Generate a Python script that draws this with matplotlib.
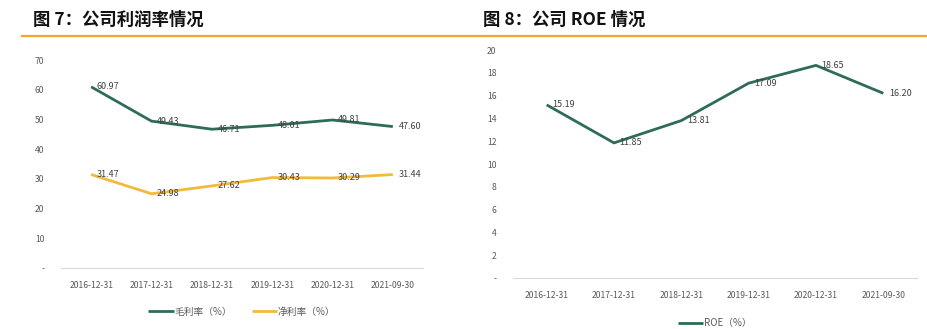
import matplotlib.pyplot as plt
from matplotlib.lines import Line2D

plt.rcParams['font.family'] = ['Noto Sans CJK SC', 'DejaVu Sans']

# 数据
dates = ['2016-12-31', '2017-12-31', '2018-12-31', '2019-12-31', '2020-12-31', '2021-09-30']
gross_margin = [60.97, 49.43, 46.71, 48.01, 49.81, 47.60]
net_margin = [31.47, 24.98, 27.62, 30.43, 30.29, 31.44]
roe = [15.19, 11.85, 13.81, 17.09, 18.65, 16.20]

left_ticks = [0, 10, 20, 30, 40, 50, 60, 70]
right_ticks = [0, 2, 4, 6, 8, 10, 12, 14, 16, 18, 20]

green = '#2E6B5B'
yellow = '#F2BA3A'
tick_color = '#595959'
label_color = '#404040'

fig = plt.figure(figsize=(9.28, 3.29), dpi=100)

# 标题与下划线
fig.text(33 / 928, 1 - 20 / 329, '图 7：公司利润率情况', fontsize=12.5, fontweight='bold',
         va='center', ha='left', color='#111111')
fig.text(483 / 928, 1 - 20 / 329, '图 8：公司 ROE 情况', fontsize=12.5, fontweight='bold',
         va='center', ha='left', color='#111111')
fig.add_artist(Line2D([22 / 928, 1.0], [1 - 36 / 329, 1 - 36 / 329], color='#F0A92E', lw=1.6))


def style_axis(ax, ticks, ymax):
    ax.set_ylim(0, ymax)
    ax.set_xlim(-0.5, len(dates) - 0.5)
    ax.set_xticks(range(len(dates)))
    ax.set_xticklabels(dates, fontsize=6.2, color=tick_color)
    ax.set_yticks(ticks)
    ax.set_yticklabels(['-'] + [str(t) for t in ticks[1:]], fontsize=6.2, color=tick_color)
    for s in ['top', 'right', 'left']:
        ax.spines[s].set_visible(False)
    ax.spines['bottom'].set_color('#D9D9D9')
    ax.spines['bottom'].set_linewidth(0.8)
    ax.tick_params(length=0)
    ax.tick_params(axis='x', pad=9)
    ax.tick_params(axis='y', pad=12)


def add_labels(ax, values):
    for i, v in enumerate(values):
        ax.annotate(f'{v:.2f}', (i, v), xytext=(4, 0), textcoords='offset points',
                    fontsize=6.5, color=label_color, va='center', ha='left')


# 图7
ax1 = fig.add_axes([61 / 928, 1 - 268 / 329, 362 / 928, 208 / 329])
ax1.plot(range(len(dates)), gross_margin, color=green, lw=2.0, label='毛利率（%）',
         solid_capstyle='butt')
ax1.plot(range(len(dates)), net_margin, color=yellow, lw=2.0, label='净利率（%）',
         solid_capstyle='butt')
style_axis(ax1, left_ticks, 70)
add_labels(ax1, gross_margin)
add_labels(ax1, net_margin)
ax1.legend(loc='center', bbox_to_anchor=(0.5, -0.21), ncol=2, frameon=False, fontsize=7,
           handlelength=2.6, handletextpad=0.1, columnspacing=2.0, labelcolor=tick_color)

# 图8
ax2 = fig.add_axes([513 / 928, 1 - 278 / 329, 404 / 928, 228 / 329])
ax2.plot(range(len(dates)), roe, color=green, lw=2.0, label='ROE（%）', solid_capstyle='butt')
style_axis(ax2, right_ticks, 20)
add_labels(ax2, roe)
ax2.legend(loc='center', bbox_to_anchor=(0.5, -0.199), ncol=1, frameon=False, fontsize=7,
           handlelength=2.6, handletextpad=0.1, labelcolor=tick_color)

fig.savefig('out.png', dpi=100, facecolor='white')
